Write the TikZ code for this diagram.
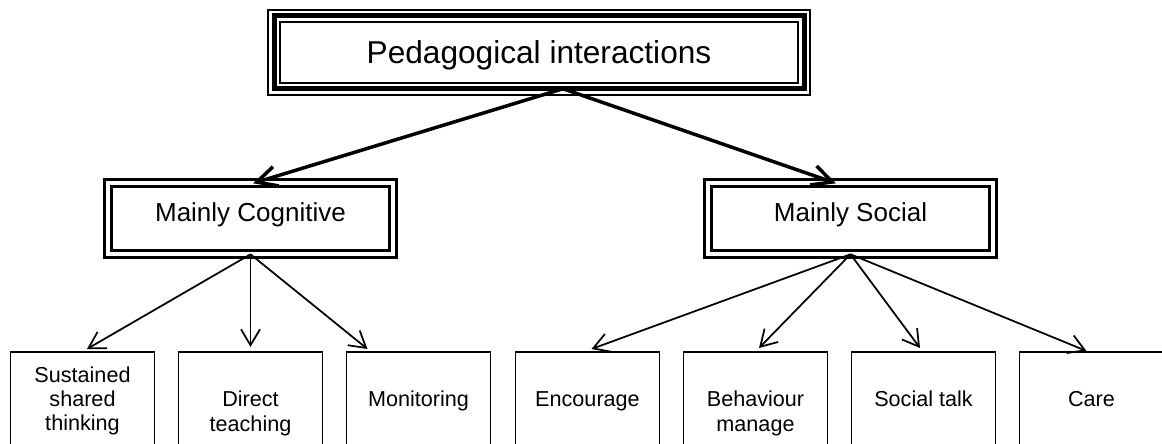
\documentclass[tikz,border=0pt]{standalone}
\usepackage{fontspec}
\setmainfont{Liberation Sans}
\usetikzlibrary{arrows.meta,positioning,calc}

\begin{document}
\begin{tikzpicture}[
  mainbox/.style={draw=black, double, line width=0.04cm, double distance=0.2cm, outer sep=0pt, inner sep=0pt, minimum width=10.6cm, minimum height=1.46cm, font=\fontsize{18}{21}\selectfont, text depth=0pt},
  groupbox/.style={draw=black, double, line width=0.056cm, double distance=0.086cm, outer sep=0pt, inner sep=0pt, minimum width=5.7cm, minimum height=1.42cm, font=\fontsize{14.8}{17}\selectfont, text height=10.5pt, text depth=7.5pt},
  leafbox/.style={draw=black, line width=0.035cm, outer sep=0pt, inner sep=0pt, minimum width=2.88cm, minimum height=1.96cm, anchor=north, align=center, text depth=2.6pt, font=\fontsize{12.3}{13.9}\selectfont},
  leafboxtall/.style={leafbox, minimum height=2.46cm},
  bigarrow/.style={-{Straight Barb[length=0.4cm,width=0.4cm]}, line width=0.07cm},
  smallarrow/.style={-{Straight Barb[length=0.32cm,width=0.38cm]}, line width=0.035cm}
]
  \useasboundingbox (0,0) rectangle (23.24,8.86);

  \node (pi) [mainbox] at (10.78,7.815) {Pedagogical interactions};
  \draw [line width=0.1cm] (pi.south west) rectangle (pi.north east);
  \coordinate (piout) at ([xshift=0.48cm]pi.south);

  \node (cog) [groupbox] at (5.01,4.484) {Mainly Cognitive};
  \node (soc) [groupbox] at (17.01,4.484) {Mainly Social};

  % cognitive side
  \node (sst) [leafbox] at (1.65,1.82) {Sustained\\shared\\thinking};
  \node (dt) [leafboxtall] at (5.01,1.82) {Direct\\teaching};
  \node (mon) [leafbox] at (8.37,1.82) {Monitoring};

  % social side
  \node (enc) [leafbox] at (11.75,1.82) {Encourage};
  \node (beh) [leafboxtall] at (15.11,1.82) {Behaviour\\manage};
  \node (st) [leafbox] at (18.47,1.82) {Social talk};
  \node (care) [leafbox] at (21.83,1.82) {Care};

  \path [bigarrow]
  (piout) edge ([xshift=0.05cm]cog.north)
  (piout) edge ([xshift=-0.29cm]soc.north);

  \path [smallarrow]
  (cog.south) edge ([xshift=0.09cm, yshift=0.06cm]sst.north)
  (cog.south) edge ([yshift=0.1cm]dt.north)
  (cog.south) edge ([xshift=-1.02cm, yshift=0.06cm]mon.north)
  (soc.south) edge ([xshift=0.08cm, yshift=0.06cm]enc.north)
  (soc.south) edge ([xshift=0.07cm, yshift=0.08cm]beh.north)
  (soc.south) edge ([xshift=-0.07cm, yshift=0.08cm]st.north)
  (soc.south) edge ([xshift=-0.1cm, yshift=0.02cm]care.north);
\end{tikzpicture}
\end{document}
